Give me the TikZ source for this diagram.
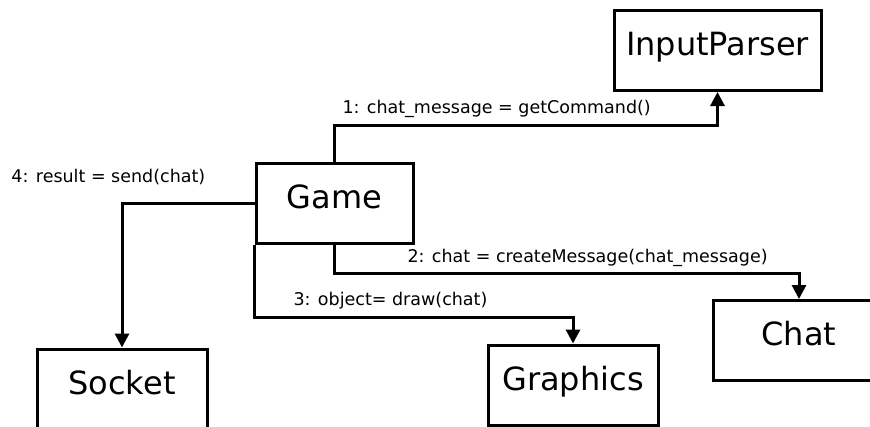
\documentclass[tikz,border=0pt]{standalone}
\usepackage{fontspec}
\setmainfont{DejaVu Sans}
\usetikzlibrary{arrows.meta}

\begin{document}
\begin{tikzpicture}[x=1pt,y=-1pt,line width=3pt,
  box/.style={draw,rectangle,inner sep=0pt,minimum height=80pt,text height=24pt,text depth=14pt,font=\fontsize{32}{38}\selectfont},
  msg/.style={anchor=base west,inner sep=0pt,font=\fontsize{17.5}{21}\selectfont},
  call/.style={-{Triangle[width=14pt,length=14pt]}}]
  \useasboundingbox (0,0) rectangle (870,426);
  \node[box,minimum width=157pt] (game) at (334.5,203) {Game};
  \node[box,minimum width=207pt] (parser) at (717.5,50.5) {InputParser};
  \node[box,minimum width=172pt] (chat) at (799,340.5) {Chat};
  \node[box,minimum width=170pt] (graphics) at (573,385) {Graphics};
  \node[box,minimum width=170pt] (socket) at (122,389) {Socket};
  \draw[call] (game.north) -- ++(0,-36) -| (parser.south);
  \draw[call] (game.south) -- ++(0,29) -| (chat.north);
  \draw[call] (game.south west) -- ++(0,73) -| (graphics.north);
  \draw[call] (game.west) -| (socket.north);
  \node[msg] (m1) at (341,113) {1: chat\_message = getCommand()};
  \node[msg] (m2) at (406,262) {2: chat = createMessage(chat\_message)};
  \node[msg] (m3) at (292,305) {3: object= draw(chat)};
  \node[msg] (m4) at (10,182) {4: result = send(chat)};
\end{tikzpicture}
\end{document}
